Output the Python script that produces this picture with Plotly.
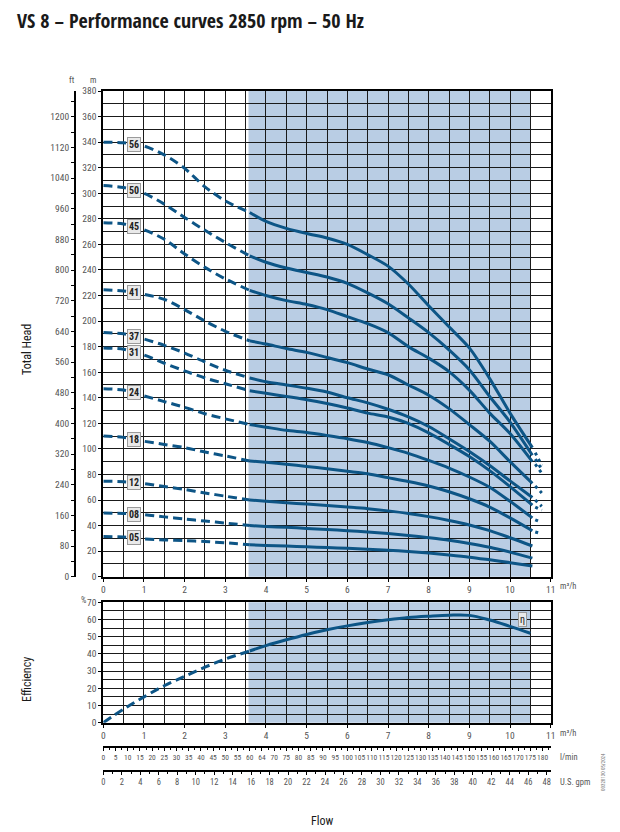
import plotly.graph_objects as go
import numpy as np

W, H = 620, 832
FONT = "Roboto Condensed, Open Sans Condensed, Roboto, sans-serif"
TFONT = "Open Sans Condensed, Roboto Condensed, sans-serif"
BLUE = "#0d5586"
SHADE = "#b9cde4"
GRID = "#1a1a1a"
TXT = "#555555"

# ---------------- data ----------------
Q = [0, 0.5, 1, 1.5, 2, 2.5, 3, 3.6, 4, 4.5, 5, 5.5, 6, 6.5, 7, 7.5, 8, 8.5, 9, 9.5, 10, 10.55]
stages = ["56", "50", "45", "41", "37", "31", "24", "18", "12", "08", "05"]

H56 = [340, 339.5, 337, 330, 319.5, 305, 294, 285, 278, 272.5, 268.5, 265, 260, 252, 243, 229, 212, 195.5, 179, 155, 128, 101]
H50 = [306, 304.5, 300, 291.5, 281, 271, 261.5, 251, 246, 241.5, 238, 234.5, 229.5, 222, 213.5, 202.5, 191, 177.5, 162, 141, 121, 95]
H45 = [277, 276, 271.5, 264, 252.5, 242, 233, 224, 220, 216, 213, 209, 203.5, 198, 191, 180, 171, 160.5, 146, 128, 112, 90]
H41 = [224.5, 223.5, 221, 217, 209, 200, 192, 184.5, 182, 178.5, 175.5, 171.5, 167.5, 162.5, 158, 150, 142, 131.5, 119, 106, 90, 73]
H37 = [191, 190, 186, 181, 175, 168, 161.5, 155.5, 152.5, 150, 147.5, 144.5, 140, 136, 131, 125, 117.5, 108, 98, 87, 75, 62]
H31 = [179, 178, 173.5, 167, 161, 155.5, 151, 145.5, 143.5, 141, 138.5, 135.5, 132, 128, 125, 120, 112.5, 103.5, 94, 83, 70.5, 56]
H24 = [147, 146, 141.5, 137, 132.5, 127.5, 123.5, 119, 117, 114.5, 112.8, 110.5, 108, 105, 101, 96.5, 91, 85, 78, 70, 59, 46]
H18 = [110, 109, 106, 103.5, 101, 97.5, 94.5, 90.5, 89.5, 88, 86.3, 84.5, 82.5, 80.5, 77.5, 74.5, 71, 66.5, 61, 54.5, 46, 36]
H12 = [74.7, 74.3, 72.9, 70.5, 68.2, 65.5, 63, 60, 59, 57.8, 56.8, 55.7, 54.5, 53.2, 51.5, 49.5, 47, 44, 40.5, 36, 30.5, 24]
H08 = [49.8, 49.5, 48.5, 46.8, 45.1, 43.5, 42, 40, 39.3, 38.6, 37.8, 37, 36, 35, 33.8, 32.3, 30.5, 28.5, 26, 23, 19.2, 14.5]
H05 = [31.4, 31, 29.6, 28.8, 28.2, 27.5, 26.5, 25, 24.5, 24, 23.4, 22.8, 22.2, 21.5, 20.7, 19.7, 18.5, 17, 15.3, 13.2, 11, 8.3]
heads = [H56, H50, H45, H41, H37, H31, H24, H18, H12, H08, H05]

# dotted run-out beyond the working range
Q_EXT = [10.62, 10.78]
EXT = {"56": [97, 87], "50": [92, 84], "45": [88, 81], "41": [71, 65.5],
       "37": [60, 55], "31": [54.5, 52], "24": [44.5, 42.5], "18": [35, 33.5]}

# efficiency curve
Q_ETA = [0, 0.5, 1, 1.5, 2, 2.5, 3, 3.6, 4, 4.5, 5, 5.5, 6, 6.5, 7, 7.5, 8, 8.5, 9, 9.5, 10, 10.5]
ETA = [0, 7.9, 15, 21.5, 27, 32.3, 37, 41.7, 44.8, 48.2, 51.3, 54, 56.3, 58.2, 59.8, 61.1, 61.9, 62.5, 62.4, 59.7, 56, 52]

Q_MIN, Q_MAX = 3.57, 10.5          # recommended working range (shaded)
Q_SPLIT = 3.6                      # dashed / solid transition

X_TICKS = list(range(0, 12))
LMIN_VALS = list(range(0, 181, 5))
LMIN_TEXT = [("64" if v == 65 else str(v)) for v in LMIN_VALS]
GPM_VALS = list(range(0, 49, 2))
FT_VALS = list(range(0, 1201, 80))
FT_TOP = 1267                      # ft scale as printed on the sheet

# ---------------- layout geometry (pixels) ----------------
PX_L, PX_R = 103.3, 550.7
MAIN_T, MAIN_B = 91.0, 576.7
EFF_T, EFF_B = 602.3, 722.7
def px2x(p): return p / W
def py2y(p): return 1 - p / H

fig = go.Figure()

def seg(xs, ys, lo, hi):
    pts = [(a, b) for a, b in zip(xs, ys) if lo <= a <= hi]
    return [p[0] for p in pts], [p[1] for p in pts]

for name, hv in zip(stages, heads):
    xd, yd = seg(Q, hv, 0, Q_SPLIT)
    xs, ys = seg(Q, hv, Q_SPLIT, 20)
    fig.add_trace(go.Scatter(x=xd, y=yd, mode="lines", line=dict(color=BLUE, width=3, dash="9px,5px", shape="spline", smoothing=0.8),
                             xaxis="x", yaxis="y", showlegend=False, hoverinfo="skip"))
    fig.add_trace(go.Scatter(x=xs, y=ys, mode="lines", line=dict(color=BLUE, width=3, shape="spline", smoothing=0.8),
                             xaxis="x", yaxis="y", showlegend=False, hoverinfo="skip"))
    if name in EXT:
        fig.add_trace(go.Scatter(x=Q_EXT, y=EXT[name], mode="lines", line=dict(color=BLUE, width=3, dash="3px,4px"),
                                 xaxis="x", yaxis="y", showlegend=False, hoverinfo="skip"))

xd, yd = seg(Q_ETA, ETA, 0, Q_SPLIT)
xs, ys = seg(Q_ETA, ETA, Q_SPLIT, 20)
fig.add_trace(go.Scatter(x=xd, y=yd, mode="lines", line=dict(color=BLUE, width=3, dash="9px,5px", shape="spline"),
                         xaxis="x2", yaxis="y2", showlegend=False, hoverinfo="skip"))
fig.add_trace(go.Scatter(x=xs, y=ys, mode="lines", line=dict(color=BLUE, width=3, shape="spline"),
                         xaxis="x2", yaxis="y2", showlegend=False, hoverinfo="skip"))

# invisible helpers so the extra unit axes are drawn
fig.add_trace(go.Scatter(x=[0], y=[0], xaxis="x", yaxis="y3", mode="markers", marker=dict(opacity=0), showlegend=False, hoverinfo="skip"))
fig.add_trace(go.Scatter(x=[0], y=[0], xaxis="x3", yaxis="y2", mode="markers", marker=dict(opacity=0), showlegend=False, hoverinfo="skip"))
fig.add_trace(go.Scatter(x=[0], y=[0], xaxis="x4", yaxis="y2", mode="markers", marker=dict(opacity=0), showlegend=False, hoverinfo="skip"))

tickfont = dict(family=FONT, size=9.5, color=TXT)
xdom = [px2x(PX_L), px2x(PX_R)]

def grid_x(anchor):
    return dict(domain=xdom, anchor=anchor, range=[0, 11], tickvals=X_TICKS, showgrid=True, gridcolor=GRID, gridwidth=1.2,
                minor=dict(dtick=0.5, showgrid=True, gridcolor=GRID, gridwidth=1.2, ticks=""),
                showline=True, linecolor="black", linewidth=2, mirror=True, ticks="outside", ticklen=3, tickcolor="black",
                tickfont=tickfont, zeroline=False, fixedrange=True, tickangle=0, automargin=False)

def grid_y(dom, rng, dt, mdt, anchor):
    return dict(domain=dom, anchor=anchor, range=rng, dtick=dt, showgrid=True, gridcolor=GRID, gridwidth=1.2,
                minor=dict(dtick=mdt, showgrid=True, gridcolor=GRID, gridwidth=1.2, ticks=""),
                showline=True, linecolor="black", linewidth=2, mirror=True, ticks="outside", ticklen=3, tickcolor="black",
                tickfont=tickfont, zeroline=False, fixedrange=True, automargin=False)

fig.update_layout(
    width=W, height=H, margin=dict(l=0, r=0, t=0, b=0, pad=0, autoexpand=False),
    paper_bgcolor="white", plot_bgcolor="white",
    xaxis=grid_x("y"),
    yaxis=grid_y([py2y(MAIN_B), py2y(MAIN_T)], [0, 380], 20, 10, "x"),
    xaxis2=grid_x("y2"),
    yaxis2=grid_y([py2y(EFF_B), py2y(EFF_T)], [0, 70], 10, 5, "x2"),
    yaxis3=dict(overlaying="y", anchor="free", position=px2x(75), side="left", range=[0, FT_TOP],
                tickvals=FT_VALS, ticks="outside", ticklen=3, tickcolor="black", automargin=False,
                minor=dict(dtick=40, ticks="outside", ticklen=3, tickcolor="black", showgrid=False),
                showline=True, linecolor="black", linewidth=2, showgrid=False, zeroline=False, tickfont=tickfont),
    xaxis3=dict(overlaying="x2", anchor="free", position=py2y(746.5), side="bottom", range=[0, 11 * 1000 / 60],
                tickvals=LMIN_VALS, ticktext=LMIN_TEXT, ticks="outside", ticklen=4, tickcolor="black", tickangle=0,
                minor=dict(dtick=2.5, ticks="outside", ticklen=3, tickcolor="black", showgrid=False), automargin=False,
                showline=True, linecolor="black", linewidth=1.5, showgrid=False, zeroline=False,
                tickfont=dict(family=FONT, size=7.5, color=TXT)),
    xaxis4=dict(overlaying="x2", anchor="free", position=py2y(770.5), side="bottom", range=[0, 11 * 4.40287],
                tickvals=GPM_VALS, ticks="outside", ticklen=4, tickcolor="black", tickangle=0,
                minor=dict(dtick=1, ticks="outside", ticklen=3, tickcolor="black", showgrid=False), automargin=False,
                showline=True, linecolor="black", linewidth=1.5, showgrid=False, zeroline=False,
                tickfont=dict(family=FONT, size=8.5, color=TXT)),
)

# shaded working range
for xr, yr in (("x", "y"), ("x2", "y2")):
    fig.add_shape(type="rect", xref=xr, yref=f"{yr} domain", x0=Q_MIN, x1=Q_MAX, y0=0, y1=1,
                  fillcolor=SHADE, line=dict(width=0), layer="below")

def ann(text, px, py, size=9, color=TXT, family=FONT, xanchor="center", **kw):
    return dict(text=text, x=px / W, y=1 - py / H, xref="paper", yref="paper", showarrow=False,
                xanchor=xanchor, yanchor="middle",
                font=dict(family=family, size=size, color=color), **kw)

anns = [
    ann("<b>VS 8 – Performance curves 2850 rpm – 50 Hz</b>", 15, 20, size=20, color="#1a1a1a", family=TFONT,
        xanchor="left"),
    ann("ft", 72, 80, size=8.5),
    ann("m", 93, 80, size=8.5),
    ann("%", 83, 600, size=8.5),
    ann("Total Head", 27, 350, size=12, color="#1a1a1a", textangle=-90),
    ann("Efficiency", 27, 680, size=12, color="#1a1a1a", textangle=-90),
    ann("m³/h", 558, 586, size=8.5, xanchor="left"),
    ann("m³/h", 558, 733, size=8.5, xanchor="left"),
    ann("l/min", 558, 757, size=8.5, xanchor="left"),
    ann("U.S. gpm", 558, 782, size=8.5, xanchor="left"),
    ann("Flow", 322, 821, size=12, color="#1a1a1a"),
    ann("00328130 05/2024", 603, 772, size=5, color="#777777", textangle=-90),
]
for name, hv in zip(stages, heads):
    yl = float(np.interp(0.75, Q, hv))
    anns.append(dict(text=f"<b>{name}</b>", x=0.75, y=yl, xref="x", yref="y", showarrow=False,
                     font=dict(family=FONT, size=10, color="#222"), bgcolor="#e9e9e9",
                     bordercolor="#9a9a9a", borderwidth=1, borderpad=1))
anns.append(dict(text="η", x=10.3, y=60, xref="x2", yref="y2", showarrow=False,
                 font=dict(family=FONT, size=10, color="#222"), bgcolor="#e9e9e9",
                 bordercolor="#9a9a9a", borderwidth=1, borderpad=1))
fig.update_layout(annotations=anns)

POST = ("document.documentElement.style.margin='0';document.documentElement.style.padding='0';"
        "document.documentElement.style.overflow='hidden';"
        "document.body.style.margin='0';document.body.style.padding='0';document.body.style.overflow='hidden';")
fig.write_html("out.html", config={"displayModeBar": False}, post_script=POST)
